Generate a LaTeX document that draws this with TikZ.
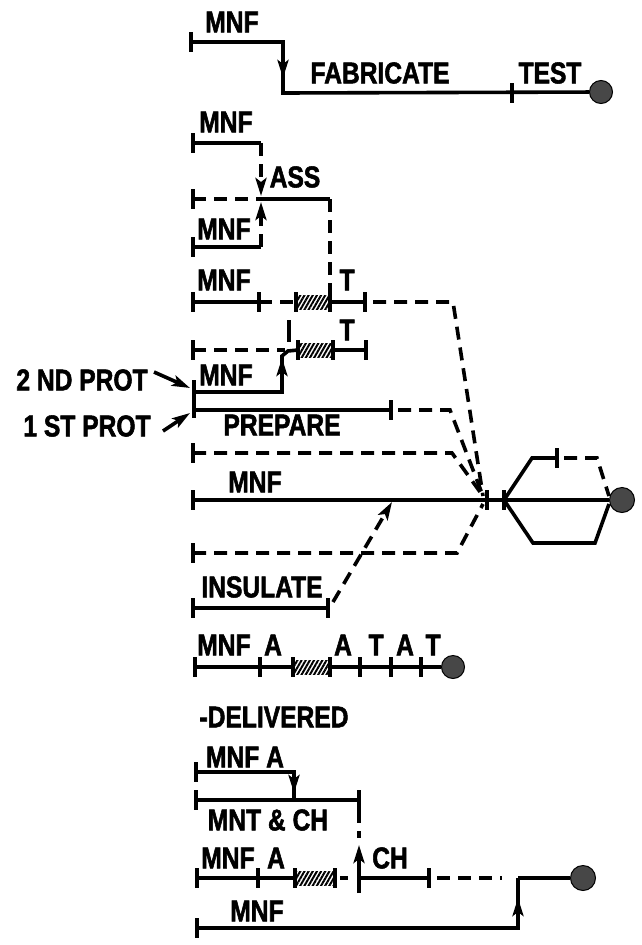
\documentclass[tikz,border=0pt]{standalone}
\usepackage{fontspec}
\setmainfont{Liberation Sans}[FakeStretch=0.82,BoldFeatures={FakeBold=1.8}]
\usetikzlibrary{arrows.meta,patterns.meta}
\begin{document}
\begin{tikzpicture}[x=1pt,y=-1pt,
 ln/.style={line width=3.6pt},
 dsh/.style={line width=3.6pt, dash pattern=on 13pt off 8pt},
 lbl/.style={inner sep=0pt, font=\fontsize{30}{30}\selectfont\bfseries},
 tk/.pic={\draw[line width=3.6pt] (0,-10)--(0,10);},
 hatch/.style={pattern={Lines[angle=60,distance=3.6pt,line width=2pt]}},
 endpt/.style={circle, fill=black!72, draw=black, line width=1pt, minimum size=23pt, inner sep=0pt},
 arr/.style={-{Stealth[length=18pt,width=11pt,inset=4pt]}}]
\useasboundingbox (0,0) rectangle (642,945);

% ---------- row 1
\coordinate (p1) at (191,42); \coordinate (p2) at (283,42);
\coordinate (p3) at (283,93); \coordinate (p3a) at (283,78);
\coordinate (p4) at (512,93);
\node[endpt] (e1) at (601,92) {};
\draw[ln] (p1)--(p2)--(p3)--(e1);
\draw[ln,arr] (p2)--(p3a);
\pic at (p1) {tk}; \pic at (p4) {tk};
\node[lbl] (l1) at (232,22) {MNF};
\node[lbl] (l2) at (380,73) {FABRICATE};
\node[lbl] (l3) at (550,73) {TEST};

% ---------- row 2 (assembly)
\coordinate (q1) at (193,143); \coordinate (q2) at (261,143);
\coordinate (q3) at (261,199); \coordinate (q0) at (193,199);
\coordinate (q4) at (330,199); \coordinate (q5) at (193,247);
\coordinate (q6) at (261,247);
\coordinate (q3u) at (261,196); \coordinate (q3d) at (261,202);
\draw[ln] (q1)--(q2);
\draw[dsh,arr] (q2)--(q3u);
\draw[dsh] (q0)--(q3);
\draw[ln] (q3)--(q4);
\draw[ln] (q5)--(q6);
\draw[dsh,arr] (q6)--(q3d);
\pic at (q1) {tk}; \pic at (q0) {tk}; \pic at (q5) {tk};
\node[lbl] (l4) at (226,122) {MNF};
\node[lbl] (l5) at (295,177) {ASS};
\node[lbl] (l6) at (224,229) {MNF};

% ---------- row 3
\coordinate (r1) at (193,302); \coordinate (r2) at (259,302);
\coordinate (r3) at (296,302); \coordinate (r6) at (330,302);
\coordinate (r7) at (365,302); \coordinate (r7b) at (373,302);
\coordinate (r8) at (453,302); \coordinate (J) at (483,496);
\coordinate (h1a) at (296,295); \coordinate (h1b) at (330,309);
\draw[dsh] (q4)--(r6);
\draw[ln] (r1)--(r2);
\draw[dsh] (r2)--(r3);
\fill[hatch] (h1a) rectangle (h1b);
\draw[ln] (r6)--(r7);
\draw[dsh] (r7b)--(r8)--(J);
\pic at (r1) {tk}; \pic at (r2) {tk}; \pic at (r3) {tk}; \pic at (r6) {tk}; \pic at (r7) {tk};
\node[lbl] (l7) at (224,280) {MNF};
\node[lbl] (l8) at (347,280) {T};

% ---------- row 4 (2nd prototype)
\coordinate (s1) at (193,350); \coordinate (s2) at (285,350);
\coordinate (s3) at (298,350); \coordinate (s4) at (333,350);
\coordinate (s5) at (366,350);
\coordinate (sI1) at (289,320); \coordinate (sI2) at (289,342);
\coordinate (h2a) at (298,343); \coordinate (h2b) at (333,357);
\draw[dsh] (s1)--(s2);
\draw[ln] (sI1)--(sI2);
\fill[hatch] (h2a) rectangle (h2b);
\draw[ln] (s4)--(s5);
\pic at (s1) {tk}; \pic at (s3) {tk}; \pic at (s4) {tk}; \pic at (s5) {tk};
\node[lbl] (l9) at (347,330) {T};

\coordinate (u1) at (194,392); \coordinate (u2) at (282,392);
\coordinate (u3) at (282,356); \coordinate (u4) at (288,351);
\coordinate (u3a) at (282,358);
\coordinate (u0a) at (194,380); \coordinate (u0b) at (194,418);
\draw[ln] (u1)--(u2)--(u3)--(u4)--(s3);
\draw[ln,arr] (u2)--(u3a);
\draw[ln] (u0a)--(u0b);
\node[lbl] (l10) at (226,375) {MNF};

% ---------- 1st prototype
\coordinate (v1) at (194,410); \coordinate (v2) at (391,410);
\coordinate (v3) at (398,410); \coordinate (v4) at (450,410);
\draw[ln] (v1)--(v2);
\draw[dsh] (v3)--(v4)--(J);
\pic at (v2) {tk};
\node[lbl] (l11) at (282,425) {PREPARE};

\coordinate (pa1) at (154,372); \coordinate (pa2) at (190,388);
\coordinate (pb1) at (163,431); \coordinate (pb2) at (190,413);
\draw[ln,arr] (pa1)--(pa2);
\draw[ln,arr] (pb1)--(pb2);
\node[lbl] (l12) at (82,380) {2 ND PROT};
\node[lbl] (l13) at (87,426) {1 ST PROT};

% ---------- dashed above main
\coordinate (w1) at (193,453); \coordinate (w2) at (452,453);
\draw[dsh] (w1)--(w2)--(J);
\pic at (w1) {tk};

% ---------- main line
\coordinate (m1) at (193,500); \coordinate (m3) at (487,500);
\coordinate (m4) at (504,500);
\node[endpt,minimum size=25pt] (e2) at (622,500) {};
\draw[ln] (m1)--(e2);
\pic at (m1) {tk}; \pic at (m3) {tk}; \pic at (m4) {tk};
\node[lbl] (l14) at (255,482) {MNF};

\coordinate (x1) at (532,458); \coordinate (x2) at (557,458);
\coordinate (x2b) at (564,458); \coordinate (x3) at (597,458);
\coordinate (x4) at (533,543); \coordinate (x5) at (595,543);
\coordinate (x6) at (609,496); \coordinate (x7) at (609,504);
\draw[ln] (m4)--(x1)--(x2);
\pic at (x2) {tk};
\draw[dsh] (x2b)--(x3)--(x6);
\draw[ln] (m4)--(x4)--(x5)--(x7);

% ---------- dashed below main
\coordinate (g1) at (193,553); \coordinate (g2) at (457,553);
\coordinate (J2) at (483,504);
\draw[dsh] (g1)--(g2)--(J2);
\pic at (g1) {tk};

% ---------- insulate
\coordinate (i1) at (193,608); \coordinate (i2) at (328,608);
\coordinate (i3) at (333,602); \coordinate (i4) at (392,502);
\draw[ln] (i1)--(i2);
\pic at (i1) {tk}; \pic at (i2) {tk};
\draw[dsh,arr] (i3)--(i4);
\node[lbl] (l15) at (262,587) {INSULATE};

% ---------- A T row
\coordinate (k1) at (195,667); \coordinate (k2) at (260,667);
\coordinate (k3) at (293,667); \coordinate (k4) at (330,667);
\coordinate (k5) at (360,667); \coordinate (k6) at (391,667);
\coordinate (k7) at (421,667);
\coordinate (h3a) at (293,660); \coordinate (h3b) at (330,674);
\node[endpt] (e3) at (453,667) {};
\draw[ln] (k1)--(k3);
\fill[hatch] (h3a) rectangle (h3b);
\draw[ln] (k4)--(e3);
\foreach \k in {k1,k2,k3,k4,k5,k6,k7} {\pic at (\k) {tk};}
\node[lbl] (l16) at (224,645) {MNF};
\node[lbl] (l17) at (273,645) {A};
\node[lbl] (l18) at (343,645) {A};
\node[lbl] (l19) at (376,645) {T};
\node[lbl] (l20) at (405,645) {A};
\node[lbl] (l21) at (433,645) {T};

% ---------- delivered
\node[lbl] (l22) at (274,717) {-DELIVERED};
\coordinate (n1) at (196,772); \coordinate (n2) at (294,772);
\coordinate (n3) at (294,800); \coordinate (n3a) at (294,793);
\coordinate (o1) at (196,800); \coordinate (o2) at (359,800);
\coordinate (o2b) at (359,810); \coordinate (o3) at (359,838);
\draw[ln] (n1)--(n2)--(n3);
\draw[ln,arr] (n2)--(n3a);
\draw[ln] (o1)--(o2);
\pic at (n1) {tk}; \pic at (o1) {tk}; \pic at (o2) {tk};
\draw[dsh] (o2b)--(o3);
\node[lbl] (l23) at (245,757) {MNF A};
\node[lbl] (l24) at (268,820) {MNT \& CH};

\coordinate (z1) at (197,878); \coordinate (z2) at (258,878);
\coordinate (z3) at (295,878); \coordinate (z4) at (335,878);
\coordinate (z5a) at (340,878); \coordinate (z5b) at (348,878);
\coordinate (z6) at (359,878); \coordinate (z7) at (429,878);
\coordinate (z8) at (437,878); \coordinate (z9) at (502,878);
\coordinate (z10) at (518,878);
\coordinate (z6t) at (359,893); \coordinate (z6a) at (359,845);
\coordinate (h4a) at (297,871); \coordinate (h4b) at (335,885);
\node[endpt,minimum size=25pt] (e4) at (583,878) {};
\draw[ln] (z1)--(z3);
\fill[hatch] (h4a) rectangle (h4b);
\draw[ln] (z5a)--(z5b);
\draw[ln] (z6)--(z7);
\draw[dsh] (z8)--(z9);
\draw[ln] (z10)--(e4);
\draw[ln,arr] (z6t)--(z6a);
\foreach \k in {z1,z2,z3,z4,z7} {\pic at (\k) {tk};}
\node[lbl] (l25) at (228,858) {MNF};
\node[lbl] (l26) at (276,858) {A};
\node[lbl] (l27) at (390,858) {CH};

\coordinate (y1) at (197,928); \coordinate (y2) at (518,928);
\coordinate (y2a) at (518,898);
\draw[ln] (y1)--(y2)--(z10);
\draw[ln,arr] (y2)--(y2a);
\pic at (y1) {tk};
\node[lbl] (l28) at (257,911) {MNF};
\end{tikzpicture}
\end{document}
